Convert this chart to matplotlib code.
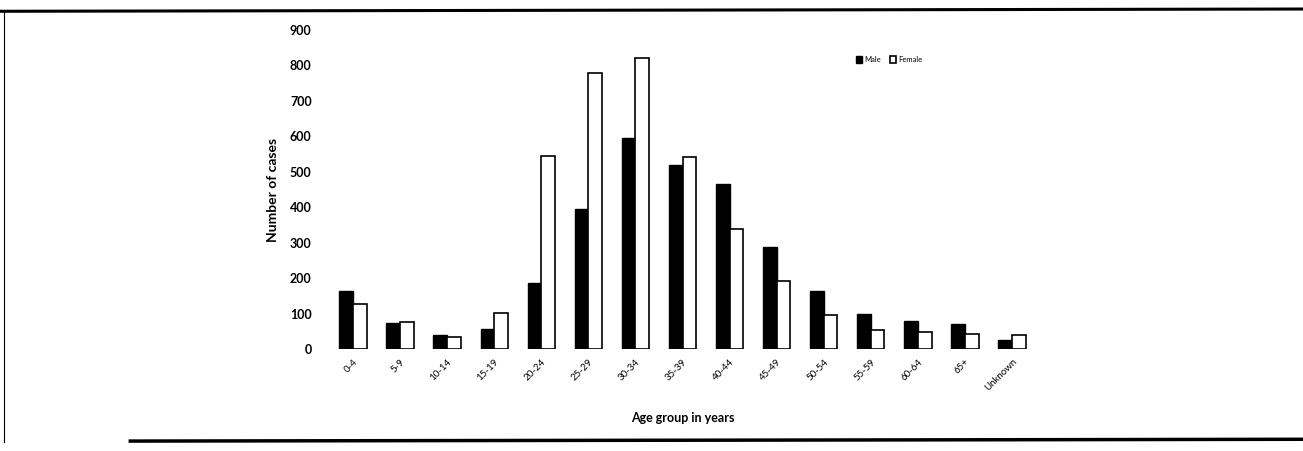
import numpy as np
import matplotlib
matplotlib.use("Agg")
import matplotlib.pyplot as plt
from matplotlib.lines import Line2D

# Age groups and case counts
age_groups = ["0-4", "5-9", "10-14", "15-19", "20-24", "25-29", "30-34", "35-39",
              "40-44", "45-49", "50-54", "55-59", "60-64", "65+", "Unknown"]
male = [165, 74, 40, 56, 186, 394, 594, 518, 465, 287, 163, 99, 79, 70, 25]
female = [127, 75, 34, 101, 545, 780, 820, 541, 338, 192, 96, 54, 48, 42, 40]
y_ticks = [0, 100, 200, 300, 400, 500, 600, 700, 800, 900]

plt.rcParams['font.family'] = ['Lato', 'DejaVu Sans']

fig = plt.figure(figsize=(13.03, 4.51), dpi=100)
ax = fig.add_axes([0.2456, 0.2262, 0.5564, 0.7073])

x = np.arange(len(age_groups))
w = 0.29
ax.bar(x - w / 2, male, width=w, color='black', edgecolor='black', linewidth=1, label='Male')
ax.bar(x + w / 2, female, width=w, color='white', edgecolor='black', linewidth=1.2, label='Female')

ax.set_xlim(-0.7, 14.7)
ax.set_ylim(0, 900)
ax.set_yticks(y_ticks)
ax.set_yticklabels([str(v) for v in y_ticks], fontsize=9, fontweight='bold')
ax.set_xticks(x)
ax.set_xticklabels(age_groups, rotation=45, ha='right', fontsize=7, rotation_mode='anchor')
ax.tick_params(length=0, pad=6)
for s in ax.spines.values():
    s.set_visible(False)

ax.set_ylabel("Number of cases", fontsize=10, fontweight='bold', labelpad=8)
ax.set_xlabel("Age group in years", fontsize=9, fontweight='bold', labelpad=14)

ax.legend(loc='upper left', bbox_to_anchor=(0.73, 0.94), ncol=2, frameon=False,
          fontsize=5.5, handlelength=0.8, handleheight=0.9, columnspacing=1.2,
          handletextpad=0.3)

# scanned page border lines
fig.add_artist(Line2D([0, 1], [0.975, 0.98], transform=fig.transFigure, color='black', lw=2.2))
fig.add_artist(Line2D([0.1, 1], [0.022, 0.026], transform=fig.transFigure, color='black', lw=2.5))
fig.add_artist(Line2D([0.003, 0.003], [0.02, 0.975], transform=fig.transFigure, color='black', lw=0.8))

fig.savefig("out.png", dpi=100)
